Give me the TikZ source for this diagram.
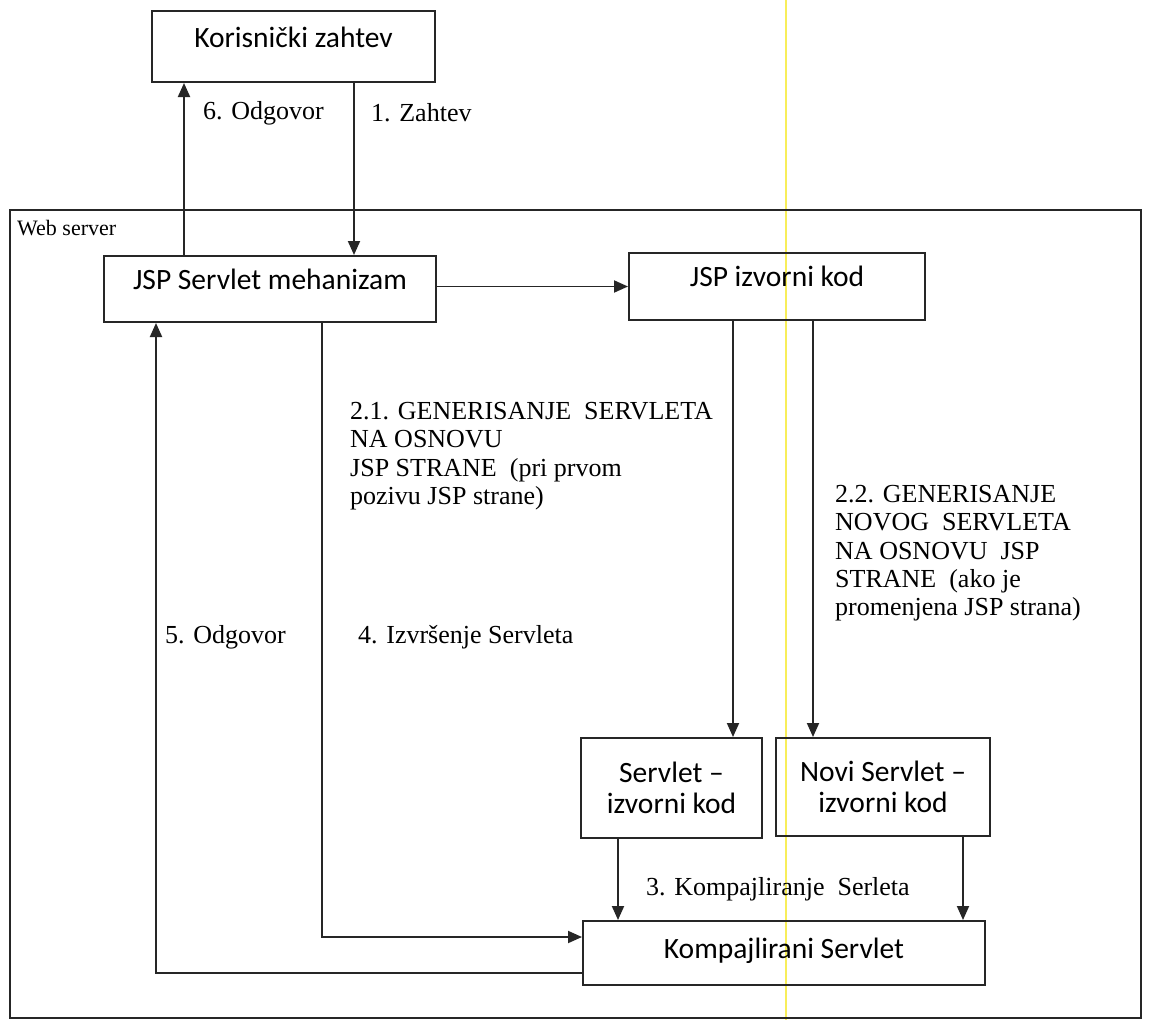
\documentclass[tikz,border=0pt]{standalone}
\usepackage{fontspec}
\setmainfont{Liberation Serif}
\newfontfamily\boxfont{Carlito}
\usetikzlibrary{arrows.meta}
\definecolor{scanyellow}{RGB}{248,238,90}
\begin{document}
\begin{tikzpicture}[x=1pt,y=-1pt,
  box/.style={draw=black!85, line width=2pt, inner sep=0pt, align=center,
    font=\boxfont\fontsize{29.5}{31}\selectfont},
  frame/.style={draw=black!85, line width=1.8pt, inner sep=0pt},
  flow/.style={draw=black!85, line width=1.9pt, -{Triangle[length=14pt,width=12pt]}},
  lbl/.style={inner sep=0pt, align=left, font=\fontsize{26}{28.3}\selectfont},
]
\useasboundingbox (0,0) rectangle (1154,1020);
\fill[white] (0,0) rectangle (1154,1020);
\draw[scanyellow, line width=2pt] (786,0) -- (786,1020);

% frame
\node[frame, minimum width=1131pt, minimum height=808pt] (web) at (575.5,614) {};
\node[lbl, anchor=north west, font=\fontsize{22}{24}\selectfont] (lweb) at (17,220) {Web server};

% boxes
\node[box, minimum width=283pt, minimum height=71pt, text height=19pt, text depth=17pt] (user) at (293.5,46.5) {Korisnički zahtev};
\node[box, minimum width=332pt, minimum height=66pt, text height=19pt, text depth=19pt] (engine) at (270,289) {JSP Servlet mehanizam};
\node[box, minimum width=296pt, minimum height=67pt, text height=19pt, text depth=19pt] (jsp) at (777,286.5) {JSP izvorni kod};
\node[box, minimum width=181pt, minimum height=100pt] (src) at (671.5,788) {Servlet –\\izvorni kod};
\node[box, minimum width=214pt, minimum height=98pt] (newsrc) at (883,787) {Novi Servlet –\\izvorni kod};
\node[box, minimum width=402pt, minimum height=64pt, text height=19pt, text depth=9pt] (comp) at (784,953) {Kompajlirani Servlet};

% lanes
\coordinate (x6) at (184,0);
\coordinate (x1) at (354,0);
\coordinate (x21) at (733,0);
\coordinate (x22) at (813,0);
\coordinate (x4) at (322,0);
\coordinate (x5) at (156,0);
\coordinate (x3a) at (618,0);
\coordinate (x3b) at (963,0);
\coordinate (y4) at (0,937);
\coordinate (y5) at (0,973);

% connectors
\draw[flow] (engine.north -| x6) -- (user.south -| x6);
\draw[flow] (user.south -| x1) -- (engine.north -| x1);
\draw[flow] (engine.east |- jsp.west) -- (jsp.west);
\draw[flow] (jsp.south -| x21) -- (src.north -| x21);
\draw[flow] (jsp.south -| x22) -- (newsrc.north -| x22);
\draw[flow] (engine.south -| x4) -- (x4 |- y4) -- (comp.west |- y4);
\draw[flow] (comp.west |- y5) -- (x5 |- y5) -- (engine.south -| x5);
\draw[flow] (src.south -| x3a) -- (comp.north -| x3a);
\draw[flow] (newsrc.south -| x3b) -- (comp.north -| x3b);

% labels
\node[lbl, anchor=west] (l6) at (203,113) {6. Odgovor};
\node[lbl, anchor=west] (l1) at (371,113) {1. Zahtev};
\node[lbl, anchor=north west] (l21) at (350,402) {2.1. GENERISANJE\ \ SERVLETA\\NA OSNOVU\\JSP STRANE\ \ (pri prvom\\pozivu JSP strane)};
\node[lbl, anchor=north west] (l22) at (835,485) {2.2. GENERISANJE\\NOVOG\ \ SERVLETA\\NA OSNOVU\ \ JSP\\STRANE\ \ (ako je\\promenjena JSP strana)};
\node[lbl, anchor=west] (l4) at (358,637) {4. Izvršenje Servleta};
\node[lbl, anchor=west] (l5) at (165,637) {5. Odgovor};
\node[lbl, anchor=west] (l3) at (646,889) {3. Kompajliranje\ \ Serleta};
\end{tikzpicture}
\end{document}
